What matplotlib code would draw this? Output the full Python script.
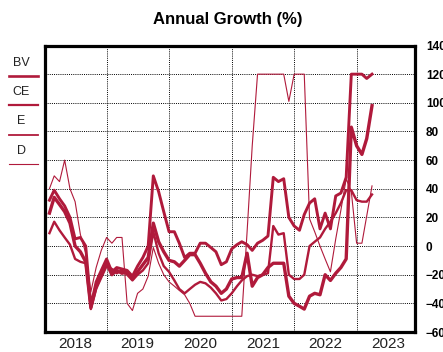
import numpy as np
import pandas as pd
import matplotlib
matplotlib.use("Agg")
import matplotlib.pyplot as plt
import matplotlib.dates as mdates
from matplotlib.lines import Line2D

# Monthly observations, Jan 2018 - Mar 2023 (month-end)
dates = pd.date_range("2018-01-31", periods=63, freq="ME")

bv = [23, 34, 29, 24, 16, 0, -4, -11, -43, -28, -20, -12,
      -20, -17, -19, -18, -23, -18, -13, -8, 16, 3, -4, -10,
      -11, -14, -10, -6, -6, -12, -19, -25, -28, -33, -30, -23,
      -22, -22, -5, -28, -22, -20, -15, -12, -12, -12, -35, -40,
      -42, -44, -35, -33, -34, -20, -24, -19, -15, -9, 83, 70,
      64, 75, 98]
ce = [32, 39, 33, 28, 20, 5, 6, 0, -42, -25, -17, -9,
      -18, -15, -16, -17, -21, -14, -8, 0, 49, 38, 24, 10,
      10, 2, -8, -5, -5, 2, 2, -1, -4, -13, -11, -2,
      1, 3, 1, -3, 2, 4, 7, 48, 45, 47, 20, 14,
      11, 22, 30, 33, 12, 23, 12, 35, 37, 48, 120, 120,
      120, 117, 120]
e = [9, 17, 11, 6, 1, -9, -11, -12, -44, -30, -22, -14,
     -16, -19, -17, -20, -24, -20, -17, -12, 10, -5, -14, -18,
     -24, -30, -33, -30, -27, -25, -26, -29, -33, -38, -37, -33,
     -28, -24, -21, -20, -21, -20, -19, 14, 8, 9, -20, -23,
     -23, -20, 0, 3, 6, 12, 17, 23, 30, 39, 39, 32,
     31, 31, 36]
d = [40, 49, 45, 60, 40, 31, 8, -5, -32, -15, -3, 6,
     2, 6, 6, -40, -45, -33, -30, -21, -1, -12, -20, -25,
     -28, -31, -34, -40, -49, -49, -49, -49, -49, -49, -49, -49,
     -49, -49, 10, 70, 120, 120, 120, 120, 120, 120, 101, 120,
     120, 120, 19, 10, 0, -9, -18, 5, 25, 47, 38, 2,
     2, 21, 42]

names = ["BV", "CE", "E", "D"]
series = [bv, ce, e, d]
widths = [2.4, 2.1, 1.7, 0.8]
legend_widths = [1.9, 1.6, 1.3, 0.8]
red = "#B01A3B"

plt.rcParams["font.family"] = ["Liberation Sans", "DejaVu Sans"]

fig = plt.figure(figsize=(4.43, 3.52), dpi=100)
ax = fig.add_axes([0.1027, 0.0568, 0.8352, 0.8139])

for vals, lw in zip(series, widths):
    ax.plot(dates, vals, color=red, lw=lw)

ax.set_xlim(pd.Timestamp("2018-01-08"), pd.Timestamp("2023-12-10"))
ax.set_ylim(-60, 140)

# gridlines on year boundaries, year labels in the middle of each year
ax.xaxis.set_major_locator(mdates.YearLocator())
ax.xaxis.set_major_formatter(plt.NullFormatter())
ax.xaxis.set_minor_locator(mdates.MonthLocator(bymonth=7))
ax.xaxis.set_minor_formatter(mdates.DateFormatter("%Y"))
ax.tick_params(axis="x", which="both", length=0, pad=3.5, labelsize=11, colors="#222222")

ax.yaxis.tick_right()
ax.set_yticks(np.arange(-60, 141, 20))
ax.tick_params(axis="y", length=0, pad=7.5, labelsize=8.5)
for lbl in ax.get_yticklabels():
    lbl.set_fontweight("bold")

ax.grid(True, which="major", color="black", linestyle=(0, (1, 1.2)), linewidth=0.7)
for s in ax.spines.values():
    s.set_linewidth(2.3)
    s.set_color("black")

fig.text(0.515, 0.946, "Annual Growth (%)", ha="center", va="center",
         fontsize=12, fontweight="bold")

# legend: label above a short line sample, stacked down the left margin
for k, (name, lw) in enumerate(zip(names, legend_widths)):
    ty = 1 - (63 + 29.2 * k) / 352
    ly = 1 - (75.5 + 29.5 * k) / 352
    fig.text(21 / 443, ty, name, ha="center", va="center", fontsize=9, color="#222222")
    fig.add_artist(Line2D([9 / 443, 38 / 443], [ly, ly], color=red, lw=lw))

fig.savefig("out.png", dpi=100)
